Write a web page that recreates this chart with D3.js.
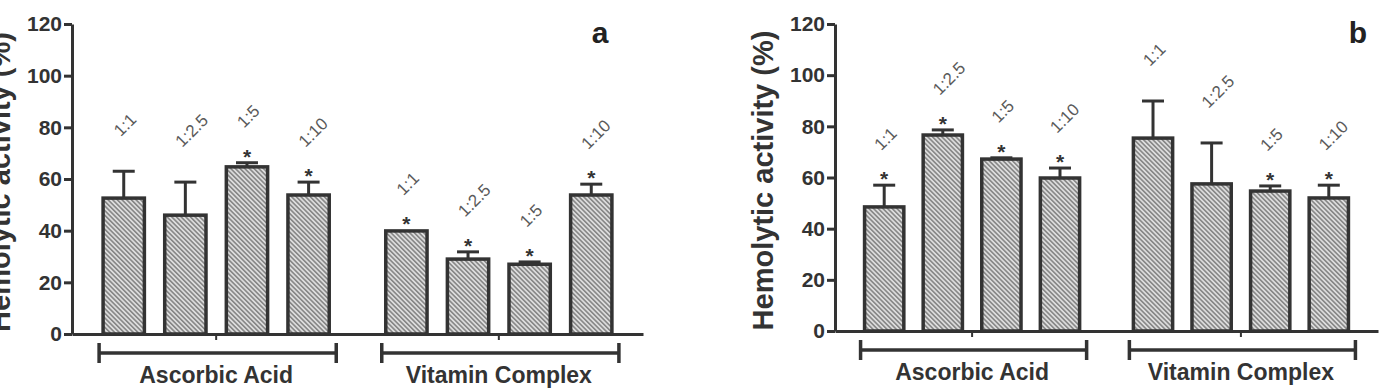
<!DOCTYPE html>
<html>
<head>
<meta charset="utf-8">
<script src="https://cdn.jsdelivr.net/npm/d3@7/dist/d3.min.js"></script>
<style>
  html, body { margin: 0; padding: 0; background: #fff; }
  svg { display: block; }
  text { font-family: "Liberation Sans", Arial, Helvetica, sans-serif; }
</style>
</head>
<body>
<svg id="chart" width="1380" height="389"></svg>
<script>
// ---------- data ----------
const groups = ["Ascorbic Acid", "Vitamin Complex"];
const ratios = ["1:1", "1:2.5", "1:5", "1:10"];
const yTicks = [0, 20, 40, 60, 80, 100, 120];
const yTitle = "Hemolytic activity (%)";

// panel a
const aAscorbic = [52.6, 46.0, 64.7, 53.8];
const aAscorbicErr = [10.4, 12.8, 1.6, 5.0];
const aAscorbicSig = [false, false, true, true];
const aVitamin = [39.9, 29.0, 27.0, 53.8];
const aVitaminErr = [0.3, 2.8, 0.9, 4.2];
const aVitaminSig = [true, true, true, true];

// panel b
const bAscorbic = [48.5, 76.6, 67.2, 59.8];
const bAscorbicErr = [8.5, 2.0, 0.5, 3.9];
const bAscorbicSig = [true, true, true, true];
const bVitamin = [75.4, 57.5, 54.7, 52.0];
const bVitaminErr = [14.5, 16.0, 2.0, 5.0];
const bVitaminSig = [false, false, true, true];

const panels = [
  { id: "a", values: [aAscorbic, aVitamin], errs: [aAscorbicErr, aVitaminErr], sig: [aAscorbicSig, aVitaminSig],
    x0: 72, x1: 643, yBottom: 334, yTop: 24, letterX: 600 },
  { id: "b", values: [bAscorbic, bVitamin], errs: [bAscorbicErr, bVitaminErr], sig: [bAscorbicSig, bVitaminSig],
    x0: 835, x1: 1378, yBottom: 331, yTop: 24, letterX: 1358 }
];

const ink = "#333";
const svg = d3.select("#chart");

// hatch pattern
const defs = svg.append("defs");
const pat = defs.append("pattern")
  .attr("id", "hatch")
  .attr("patternUnits", "userSpaceOnUse")
  .attr("width", 3.3).attr("height", 3.3)
  .attr("patternTransform", "rotate(-45)");
pat.append("rect").attr("width", 3.3).attr("height", 3.3).attr("fill", "#dcdcdc");
pat.append("line").attr("x1", 0.8).attr("y1", 0).attr("x2", 0.8).attr("y2", 3.3)
  .attr("stroke", "#6a6a6a").attr("stroke-width", 1.2);

panels.forEach(p => {
  const g = svg.append("g");
  const y = d3.scaleLinear().domain([0, 120]).range([p.yBottom, p.yTop]);
  const xg = d3.scaleBand().domain(groups).range([p.x0, p.x1]).paddingInner(0.2).paddingOuter(0.11);
  const xr = d3.scaleBand().domain(ratios).range([0, xg.bandwidth()]).paddingInner(0.33).paddingOuter(0);

  // y axis
  const ya = g.append("g").attr("transform", `translate(${p.x0},0)`)
    .call(d3.axisLeft(y).tickValues(yTicks).tickSize(8).tickSizeOuter(0).tickPadding(2));
  ya.select(".domain").attr("stroke", ink).attr("stroke-width", 3);
  ya.selectAll(".tick line").attr("stroke", ink).attr("stroke-width", 3);
  ya.selectAll(".tick text").attr("fill", ink).style("font-size", "21px").style("font-weight", "bold")
    .style("font-family", "'Liberation Sans', Arial, sans-serif");

  // y title
  g.append("text")
    .attr("transform", `translate(${p.x0 - 72},${(p.yTop + p.yBottom) / 2 + 3}) rotate(-90)`)
    .attr("text-anchor", "middle").attr("dominant-baseline", "central")
    .attr("fill", ink).style("font-size", "29px").style("font-weight", "bold")
    .text(yTitle);

  // x axis (baseline with group-centre ticks)
  const xa = g.append("g").attr("transform", `translate(0,${y(0)})`)
    .call(d3.axisBottom(xg).tickSize(6).tickSizeOuter(0).tickFormat(""));
  xa.select(".domain").attr("stroke", ink).attr("stroke-width", 3);
  xa.selectAll(".tick line").attr("stroke", ink).attr("stroke-width", 2);

  groups.forEach((grp, gi) => {
    const gx = xg(grp);
    const rows = ratios.map((r, i) => ({ r, v: p.values[gi][i], e: p.errs[gi][i], s: p.sig[gi][i] }));
    const bg = g.append("g").attr("transform", `translate(${gx},0)`);

    // error bars
    rows.forEach(d => {
      const cx = xr(d.r) + xr.bandwidth() / 2;
      if (d.e > 0.4) {
        bg.append("line").attr("x1", cx).attr("x2", cx).attr("y1", y(d.v)).attr("y2", y(d.v + d.e))
          .attr("stroke", ink).attr("stroke-width", 3);
        bg.append("line").attr("x1", cx - 11).attr("x2", cx + 11).attr("y1", y(d.v + d.e)).attr("y2", y(d.v + d.e))
          .attr("stroke", ink).attr("stroke-width", 3);
      }
    });

    // bars
    bg.selectAll("rect.bar").data(rows).join("rect").attr("class", "bar")
      .attr("x", d => xr(d.r)).attr("width", xr.bandwidth())
      .attr("y", d => y(d.v)).attr("height", d => y(0) - y(d.v))
      .attr("fill", "url(#hatch)").attr("stroke", ink).attr("stroke-width", 3.5);

    // asterisks
    bg.selectAll("text.sig").data(rows.filter(d => d.s)).join("text").attr("class", "sig")
      .attr("x", d => xr(d.r) + xr.bandwidth() / 2)
      .attr("y", d => y(d.v + d.e) + 1)
      .attr("text-anchor", "middle").attr("fill", ink)
      .style("font-size", "21px").style("font-weight", "bold").text("*");

    // ratio labels
    bg.selectAll("text.ratio").data(rows).join("text").attr("class", "ratio")
      .attr("transform", d => `translate(${xr(d.r) + xr.bandwidth() / 2 - 3},${y(d.v + d.e) - 34}) rotate(-45)`)
      .attr("fill", "#5a5a5a").style("font-size", "17px")
      .text(d => d.r);

    // bracket
    const bx0 = gx - 4, bx1 = gx + xg.bandwidth() + 7, by = y(0) + 19;
    const br = g.append("g").attr("stroke", ink).attr("stroke-width", 3.5);
    br.append("line").attr("x1", bx0).attr("x2", bx1).attr("y1", by).attr("y2", by);
    br.append("line").attr("x1", bx0).attr("x2", bx0).attr("y1", by - 10).attr("y2", by + 10);
    br.append("line").attr("x1", bx1).attr("x2", bx1).attr("y1", by - 10).attr("y2", by + 10);

    g.append("text").attr("x", gx + xg.bandwidth() / 2).attr("y", y(0) + 49)
      .attr("text-anchor", "middle").attr("fill", ink)
      .style("font-size", "23px").style("font-weight", "bold")
      .text(grp);
  });

  // panel letter
  g.append("text").attr("x", p.letterX).attr("y", 43).attr("text-anchor", "middle")
    .attr("fill", "#222").style("font-size", "30px").style("font-weight", "bold").text(p.id);
});
</script>
</body>
</html>
